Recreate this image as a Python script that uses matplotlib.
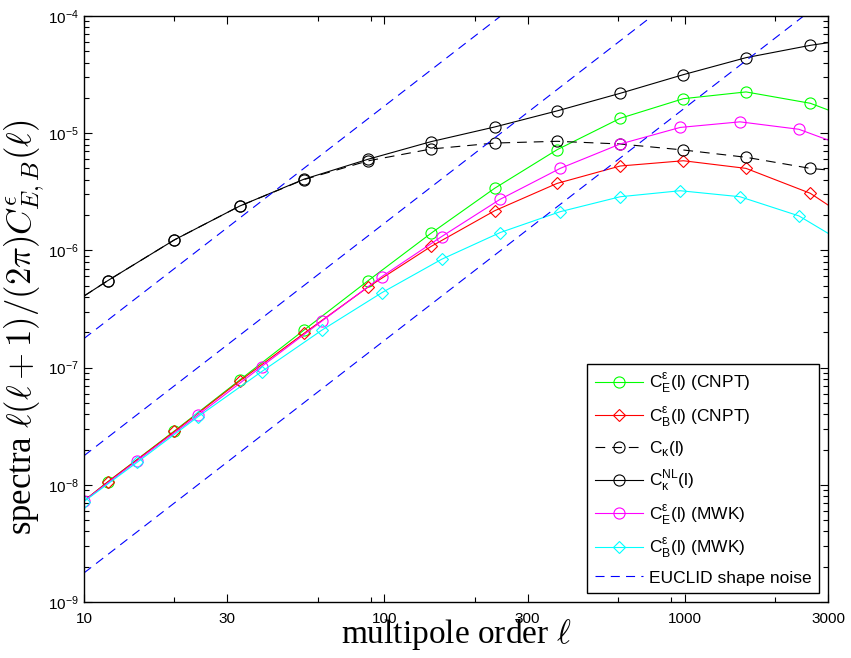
import matplotlib
matplotlib.use("Agg")
import matplotlib.pyplot as plt
import numpy as np

plt.rcParams['font.family'] = ['Liberation Sans', 'DejaVu Sans']
plt.rcParams['lines.scale_dashes'] = False

# multipoles (first and last entries are the curve ends, without markers for CNPT/kappa)
ell_cnpt = [10, 12, 20, 33, 54, 88, 143, 233, 376, 610, 990, 1600, 2620, 3000]
ell_mwk = [10, 15, 24, 39, 62, 98, 155, 243, 385, 610, 966, 1528, 2400, 3000]

cE_cnpt = [7.3e-9, 1.06e-8, 2.88e-8, 7.84e-8, 2.09e-7, 5.48e-7, 1.40e-6, 3.39e-6,
           7.23e-6, 1.34e-5, 1.97e-5, 2.25e-5, 1.80e-5, 1.58e-5]
cB_cnpt = [7.3e-9, 1.06e-8, 2.85e-8, 7.69e-8, 1.96e-7, 4.84e-7, 1.08e-6, 2.18e-6,
           3.73e-6, 5.25e-6, 5.82e-6, 5.01e-6, 3.07e-6, 2.44e-6]
ck_lin = [4.08e-7, 5.52e-7, 1.23e-6, 2.39e-6, 4.02e-6, 5.8e-6, 7.33e-6, 8.24e-6,
          8.53e-6, 8.09e-6, 7.19e-6, 6.23e-6, 5.01e-6, 4.85e-6]
ck_nl = [4.08e-7, 5.52e-7, 1.23e-6, 2.39e-6, 4.05e-6, 5.98e-6, 8.47e-6, 1.13e-5,
         1.55e-5, 2.19e-5, 3.16e-5, 4.41e-5, 5.62e-5, 5.91e-5]
cE_mwk = [7.3e-9, 1.60e-8, 3.94e-8, 1.02e-7, 2.50e-7, 5.97e-7, 1.31e-6, 2.73e-6,
          5.01e-6, 8.09e-6, 1.12e-5, 1.25e-5, 1.08e-5, 8.75e-6]
cB_mwk = [7.2e-9, 1.55e-8, 3.82e-8, 9.23e-8, 2.09e-7, 4.35e-7, 8.39e-7, 1.42e-6,
          2.14e-6, 2.87e-6, 3.23e-6, 2.87e-6, 1.97e-6, 1.40e-6]

# EUCLID shape noise lines: value at l=10, grows as l(l+1)
noise_ell = [10, 3000]
noise_at10 = [1.77e-9, 1.77e-8, 1.77e-7]

fig = plt.figure(figsize=(8.51, 6.58), dpi=100)
ax = fig.add_axes([84/851, 1-602/658, 744/851, 586/658])

lw = 0.8
mk = dict(mfc='none', ms=8, mew=0.8)
dk = dict(mfc='none', ms=6.5, mew=0.8)
inner = slice(1, -1)

ax.plot(ell_cnpt, cE_cnpt, '-', color=(0, 1, 0), lw=lw, marker='o', markevery=inner,
        label=r'C$_{\mathregular{E}}^{\mathregular{ε}}$(l) (CNPT)', **mk)
ax.plot(ell_cnpt, cB_cnpt, '-', color=(1, 0, 0), lw=lw, marker='D', markevery=inner,
        label=r'C$_{\mathregular{B}}^{\mathregular{ε}}$(l) (CNPT)', **dk)
ax.plot(ell_cnpt, ck_lin, color='k', lw=lw, dashes=(7, 5), marker='o', markevery=inner,
        label=r'C$_{\mathregular{κ}}$(l)', **mk)
ax.plot(ell_cnpt, ck_nl, '-', color='k', lw=lw, marker='o', markevery=inner,
        label=r'C$_{\mathregular{κ}}^{\mathregular{NL}}$(l)', **mk)
ax.plot(ell_mwk, cE_mwk, '-', color=(1, 0, 1), lw=lw, marker='o', markevery=slice(0, -1),
        label=r'C$_{\mathregular{E}}^{\mathregular{ε}}$(l) (MWK)', **mk)
ax.plot(ell_mwk, cB_mwk, '-', color=(0, 1, 1), lw=lw, marker='D', markevery=slice(0, -1),
        label=r'C$_{\mathregular{B}}^{\mathregular{ε}}$(l) (MWK)', **dk)

ll = np.array(noise_ell, dtype=float)
for i, n0 in enumerate(noise_at10):
    ax.plot(ll, n0 * ll * (ll + 1) / 110.0, color=(0, 0, 1), lw=lw, dashes=(6.5, 4.5),
            label='EUCLID shape noise' if i == 0 else None)

ax.set_xscale('log')
ax.set_yscale('log')
ax.set_xlim(10, 3000)
ax.set_ylim(1e-9, 1e-4)

ax.set_xticks([10, 30, 100, 300, 1000, 3000])
ax.set_xticklabels(['10', '30', '100', '300', '1000', '3000'])
ax.set_xticks([20, 60, 90, 200, 600, 900, 2000], minor=True)
ax.xaxis.set_minor_formatter(matplotlib.ticker.NullFormatter())
ax.yaxis.set_minor_locator(matplotlib.ticker.LogLocator(base=10, subs=np.arange(2, 10), numticks=20))

ax.tick_params(which='both', direction='in', top=True, right=True, labelsize=11, width=0.8)
ax.tick_params(which='major', length=6)
ax.tick_params(which='minor', length=3.5)
ax.tick_params(axis='x', pad=7)
for s in ax.spines.values():
    s.set_linewidth(1.0)

ax.set_xlabel(r'multipole order $\ell$', fontsize=24, family='Liberation Serif',
              math_fontfamily='cm')
ax.xaxis.set_label_coords(0.5, -0.026)
ax.set_ylabel(r'spectra $\ell(\ell+1)/(2\pi)C^{\epsilon}_{E,B}(\ell)$', fontsize=25,
              family='Liberation Serif', math_fontfamily='cm')
ax.yaxis.set_label_coords(-0.05, 0.468)

leg = ax.legend(loc='lower right', fontsize=12.5, fancybox=False, framealpha=1,
                edgecolor='k', handlelength=2.75, handletextpad=0.35, labelspacing=0.57,
                borderaxespad=0.5, borderpad=0.45)
leg.get_frame().set_linewidth(1.0)

fig.savefig('out.png', dpi=100)
